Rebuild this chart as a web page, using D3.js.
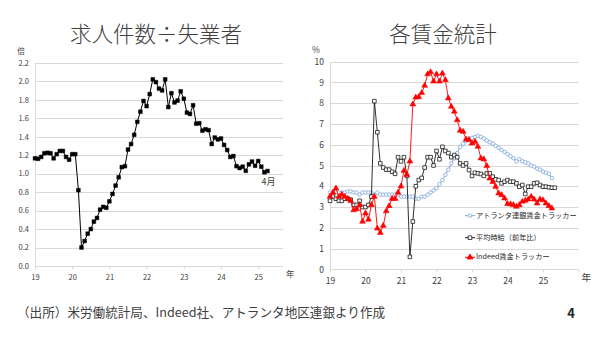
<!DOCTYPE html>
<html><head><meta charset="utf-8">
<script src="https://cdn.jsdelivr.net/npm/d3@7"></script>
<style>
body{margin:0;background:#fff;}
svg{display:block;font-family:"Noto Sans CJK JP","Noto Sans",sans-serif;}
</style></head><body>
<svg id="chart" width="600" height="338"></svg>
<script>
// Monthly series, January 2019 onward (index 0 = Jan 2019)
const yearLabels = ["19","20","21","22","23","24","25"];
const ratioTicks = [0,0.2,0.4,0.6,0.8,1.0,1.2,1.4,1.6,1.8,2.0,2.2];
const wageTicks = [0,1,2,3,4,5,6,7,8,9,10];

// Job openings per unemployed person (times)
const openingsPerUnemployed = [
  1.165,1.16,1.18,1.22,1.225,1.22,1.165,1.21,1.245,1.245,1.18,1.15,
  1.21,1.21,0.82,0.20,0.27,0.35,0.40,0.48,0.52,0.61,0.64,0.63,
  0.70,0.78,0.87,0.96,1.07,1.08,1.26,1.32,1.42,1.56,1.67,1.786,
  1.73,1.86,2.02,1.99,1.92,1.90,2.02,1.72,1.87,1.77,1.79,1.89,
  1.81,1.66,1.645,1.74,1.54,1.545,1.465,1.48,1.47,1.32,1.39,1.37,
  1.38,1.31,1.255,1.18,1.19,1.08,1.06,1.075,1.03,1.10,1.13,1.085,
  1.136,1.075,1.014,1.028
];

// Atlanta Fed wage growth tracker (%)
const atlantaTracker = [
  3.7,3.7,3.7,3.7,3.7,3.7,3.75,3.75,3.7,3.7,3.6,3.7,
  3.7,3.7,3.7,3.6,3.7,3.6,3.6,3.6,3.6,3.6,3.6,3.6,
  3.5,3.5,3.5,3.5,3.5,3.4,3.4,3.5,3.5,3.6,3.7,3.8,
  3.9,4.1,4.3,4.55,4.8,5.1,5.35,5.6,5.9,6.05,6.2,6.3,
  6.33,6.38,6.42,6.38,6.3,6.2,6.12,6.05,5.95,5.85,5.75,5.65,
  5.55,5.45,5.35,5.2,5.3,5.2,5.15,5.1,5.0,4.95,4.85,4.8,
  4.7,4.65,4.6,4.4
];

// Average hourly earnings, year over year (%)
const hourlyEarnings = [
  3.3,3.5,3.4,3.3,3.3,3.4,3.4,3.35,3.1,3.1,3.3,3.0,
  3.0,3.1,3.5,8.1,6.6,5.1,4.9,4.8,4.8,4.7,4.6,5.4,
  5.2,5.4,4.5,0.6,2.3,4.0,4.3,4.4,4.9,5.4,5.4,5.0,
  5.7,5.3,5.9,5.7,5.6,5.4,5.5,5.4,5.1,5.0,5.1,4.78,
  4.5,4.65,4.62,4.59,4.5,4.62,4.62,4.46,4.33,4.3,4.14,4.22,
  4.3,4.22,4.22,4.14,3.98,4.06,3.63,3.98,3.98,4.14,4.17,4.06,
  3.98,3.98,3.95,3.93,3.93
];

// Indeed wage tracker (%)
const indeedTracker = [
  3.5,3.7,3.9,3.5,3.6,3.5,3.4,3.3,2.85,2.9,3.1,2.3,
  2.7,2.4,3.1,3.5,1.97,1.76,2.1,2.8,3.05,3.4,3.4,3.7,
  4.0,4.75,4.55,5.2,7.95,8.28,8.3,8.5,8.85,9.4,9.5,9.05,
  9.4,9.05,9.44,9.12,8.24,7.84,7.6,7.19,6.68,6.63,6.26,6.23,
  6.07,6.15,5.91,5.35,5.3,4.98,4.38,4.22,3.98,3.66,3.58,3.42,
  3.15,3.14,3.1,3.02,3.1,3.26,3.31,3.37,3.5,3.37,3.18,3.37,
  3.33,3.18,3.05,2.94
];

const svg = d3.select("#chart");
const gridColor = "#d9d9d9";
const textColor = "#404040";

// ---------- Titles and footer ----------
svg.append("text").attr("x", 156).attr("y", 36).attr("text-anchor", "middle")
  .attr("dominant-baseline", "middle").attr("font-size", 21.5).attr("font-weight", 300)
  .attr("fill", textColor).text("求人件数÷失業者");
svg.append("text").attr("x", 443).attr("y", 36).attr("text-anchor", "middle")
  .attr("dominant-baseline", "middle").attr("font-size", 21.5).attr("font-weight", 300)
  .attr("fill", textColor).text("各賃金統計");
svg.append("text").attr("x", 17).attr("y", 314)
  .attr("dominant-baseline", "middle").attr("font-size", 12.6).attr("fill", textColor)
  .text("（出所）米労働統計局、Indeed社、アトランタ地区連銀より作成");
svg.append("text").attr("x", 571).attr("y", 314).attr("text-anchor", "middle")
  .attr("dominant-baseline", "middle").attr("font-size", 13).attr("font-weight", "bold")
  .attr("fill", "#262626").text("4");

// ---------- Shared helpers ----------
function drawFrame(g, x, y, yTicks, yFmt, monthEnd, yUnit, fs) {
  const [x0, x1] = x.range();
  // horizontal gridlines
  g.append("g").selectAll("line").data(yTicks).join("line")
    .attr("x1", x0).attr("x2", x1)
    .attr("y1", d => Math.round(y(d)) + 0.5).attr("y2", d => Math.round(y(d)) + 0.5)
    .attr("stroke", gridColor).attr("stroke-width", 1);
  // vertical axis line
  g.append("line").attr("x1", x0 + 0.5).attr("x2", x0 + 0.5)
    .attr("y1", Math.round(y(yTicks[yTicks.length - 1])) + 0.5).attr("y2", Math.round(y(0)) + 0.5)
    .attr("stroke", gridColor);
  // y tick labels
  const ya = d3.axisLeft(y).tickValues(yTicks).tickFormat(yFmt).tickSize(0).tickPadding(6);
  const yg = g.append("g").attr("transform", `translate(${x0},0)`).call(ya);
  yg.select(".domain").remove();
  yg.selectAll("text").attr("fill", textColor).attr("font-size", fs)
    .attr("font-family", "'Noto Sans CJK JP', sans-serif");
  // x axis ticks every January
  const tickMonths = d3.range(0, monthEnd + 1, 12);
  const xa = d3.axisBottom(x).tickValues(tickMonths)
    .tickFormat((d, i) => yearLabels[i] || "").tickSize(3).tickPadding(5);
  const xg = g.append("g").attr("transform", `translate(0,${Math.round(y(0)) + 0.5})`).call(xa);
  xg.select(".domain").remove();
  xg.selectAll("line").attr("stroke", gridColor);
  xg.selectAll("text").attr("fill", textColor).attr("font-size", fs)
    .attr("font-family", "'Noto Sans CJK JP', sans-serif");
  // unit labels
  g.append("text").attr("x", x0 - 14).attr("y", y(yTicks[yTicks.length - 1]) - 11)
    .attr("text-anchor", "middle").attr("dominant-baseline", "middle")
    .attr("font-size", fs).attr("fill", textColor).text(yUnit);
  g.append("text").attr("x", x1 + 3).attr("y", y(0) + 9)
    .attr("dominant-baseline", "middle")
    .attr("font-size", fs + 1).attr("fill", textColor).text("年");
}

function drawSeries(g, x, y, values, color, symbolType, size, filled, width) {
  const line = d3.line().x((d, i) => x(i)).y(d => y(d));
  g.append("path").datum(values).attr("d", line)
    .attr("fill", "none").attr("stroke", color).attr("stroke-width", width);
  const sym = d3.symbol().type(symbolType).size(size);
  g.append("g").selectAll("path").data(values).join("path")
    .attr("transform", (d, i) => `translate(${x(i)},${y(d)})`)
    .attr("d", sym)
    .attr("fill", filled ? color : "#fff")
    .attr("stroke", color).attr("stroke-width", filled ? 0.5 : 0.8);
}

// ---------- Left chart: openings per unemployed ----------
const xL = d3.scaleLinear().domain([0, 80]).range([35, 283]);
const yL = d3.scaleLinear().domain([0, 2.2]).range([266, 62.7]);
const gL = svg.append("g");
drawFrame(gL, xL, yL, ratioTicks, d3.format(".1f"), 72, "倍", 7.5);
drawSeries(gL, xL, yL, openingsPerUnemployed, "#000", d3.symbolSquare, 14, true, 1);
const lastIdx = openingsPerUnemployed.length - 1;
gL.append("text").attr("x", xL(lastIdx) - 6).attr("y", yL(openingsPerUnemployed[lastIdx]) + 12)
  .attr("dominant-baseline", "middle").attr("font-size", 9).attr("fill", textColor).text("4月");

// ---------- Right chart: wage measures ----------
const xR = d3.scaleLinear().domain([0, 84]).range([330, 578.5]);
const yR = d3.scaleLinear().domain([0, 10]).range([269.3, 61.7]);
const gR = svg.append("g");
drawFrame(gR, xR, yR, wageTicks, d3.format("d"), 84, "%", 8.5);
drawSeries(gR, xR, yR, atlantaTracker, "#7ea6d8", d3.symbolCircle, 10, false, 1);
drawSeries(gR, xR, yR, hourlyEarnings, "#1a1a1a", d3.symbolSquare, 13, false, 0.9);
drawSeries(gR, xR, yR, indeedTracker, "#ff0000", d3.symbolTriangle, 15, true, 0.9);

// legend
const legendItems = [
  {label: "アトランタ連銀賃金トラッカー", color: "#7ea6d8", type: d3.symbolCircle, size: 10, filled: false, y: 215.7},
  {label: "平均時給（前年比）", color: "#1a1a1a", type: d3.symbolSquare, size: 13, filled: false, y: 237.7},
  {label: "Indeed賃金トラッカー", color: "#ff0000", type: d3.symbolTriangle, size: 15, filled: true, y: 257.3}
];
const lg = gR.append("g");
legendItems.forEach(it => {
  lg.append("line").attr("x1", 465).attr("x2", 475).attr("y1", it.y).attr("y2", it.y)
    .attr("stroke", it.color).attr("stroke-width", 1);
  lg.append("path").attr("transform", `translate(470,${it.y})`)
    .attr("d", d3.symbol().type(it.type).size(it.size)())
    .attr("fill", it.filled ? it.color : "#fff").attr("stroke", it.color).attr("stroke-width", 0.8);
  lg.append("text").attr("x", 476).attr("y", it.y).attr("dominant-baseline", "middle")
    .attr("font-size", 7.2).attr("fill", "#262626").text(it.label);
});
</script>
</body></html>
